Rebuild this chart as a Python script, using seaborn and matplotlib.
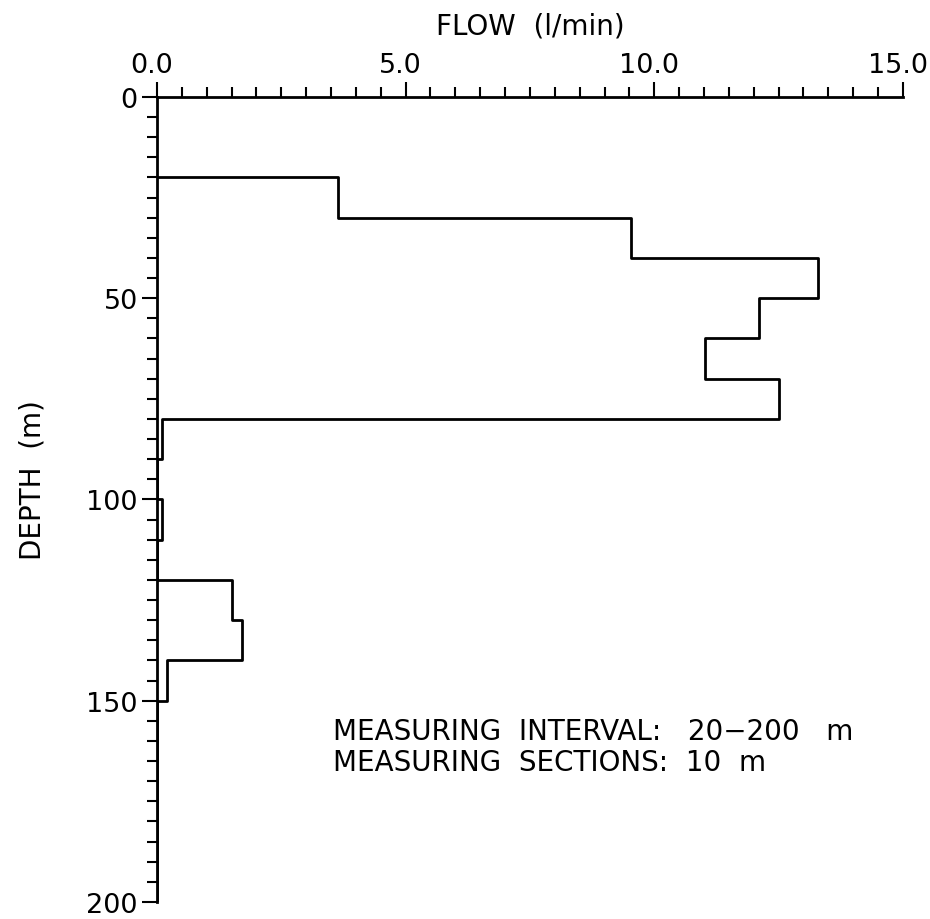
import numpy as np
import pandas as pd
import matplotlib
matplotlib.use("Agg")
import matplotlib.pyplot as plt
import matplotlib.transforms as mtransforms
import seaborn as sns
from matplotlib.ticker import MultipleLocator, FormatStrFormatter

# Data: flow per 10 m measuring section
section_top = [20, 30, 40, 50, 60, 70, 80, 90, 100, 110, 120, 130, 140, 150, 160, 170, 180, 190]
flow = [3.65, 9.53, 13.3, 12.1, 11.02, 12.5, 0.1, 0.0, 0.1, 0.0, 1.5, 1.7, 0.2, 0.0, 0.0, 0.0, 0.0, 0.0]
section_len = 10

x_ticks = [0.0, 5.0, 10.0, 15.0]
y_ticks = [0, 50, 100, 150, 200]
note_lines = ["MEASURING  INTERVAL:   20−200   m", "MEASURING  SECTIONS:  10  m"]

# Build step outline vertices from data
xs, ys = [0.0], [section_top[0]]
for t, v in zip(section_top, flow):
    xs += [v, v]
    ys += [t, t + section_len]
xs.append(0.0)
ys.append(section_top[-1] + section_len)
df = pd.DataFrame({"flow": xs, "depth": ys})

sns.set_style("ticks")
plt.rcParams["font.family"] = ["DejaVu Sans"]
plt.rcParams["text.color"] = "black"
plt.rcParams["axes.labelcolor"] = "black"
plt.rcParams["xtick.color"] = "black"
plt.rcParams["ytick.color"] = "black"

fig = plt.figure(figsize=(9.3, 9.2), dpi=100)
ax = fig.add_axes([0.1688, 0.0185, 0.802, 0.875])

sns.lineplot(data=df, x="flow", y="depth", sort=False, estimator=None,
             color="black", linewidth=2.0, ax=ax)

ax.set_xlim(0, 15)
ax.set_ylim(200, 0)

ax.xaxis.set_ticks_position("top")
ax.xaxis.set_label_position("top")
ax.set_xticks(x_ticks)
ax.xaxis.set_major_formatter(FormatStrFormatter("%.1f"))
ax.xaxis.set_minor_locator(MultipleLocator(0.5))
ax.set_yticks(y_ticks)
ax.yaxis.set_minor_locator(MultipleLocator(5))

for s in ["right", "bottom"]:
    ax.spines[s].set_visible(False)
for s in ["left", "top"]:
    ax.spines[s].set_linewidth(2.0)
    ax.spines[s].set_color("black")

ax.tick_params(which="major", length=10.8, width=1.5, labelsize=19.5, pad=3,
               colors="black")
ax.tick_params(which="minor", length=7.2, width=1.5, colors="black")

# shift top tick labels slightly left, as in the scanned original
offset = mtransforms.ScaledTranslation(-5 / 100, 0, fig.dpi_scale_trans)
for lab in ax.get_xticklabels():
    lab.set_transform(lab.get_transform() + offset)

ax.set_xlabel("FLOW  (l/min)", fontsize=20)
ax.set_ylabel("DEPTH  (m)", fontsize=20)
ax.xaxis.set_label_coords(0.5, 1.079)
ax.yaxis.set_label_coords(-0.1475, 0.525)

ax.text(3.53, 159.6, note_lines[0], fontsize=20, va="baseline", ha="left")
ax.text(3.53, 167.2, note_lines[1], fontsize=20, va="baseline", ha="left")

fig.savefig("out.png", dpi=100, facecolor="white")
